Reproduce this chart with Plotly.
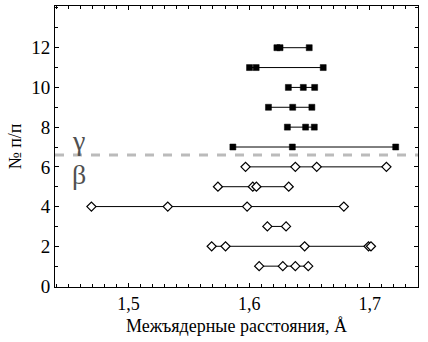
import plotly.graph_objects as go

# Interatomic distances per row (№ п/п)
gamma_rows = [7, 8, 9, 10, 11, 12]
gamma_vals = [
    [1.5865, 1.6358, 1.7215],
    [1.6317, 1.6468, 1.6540],
    [1.6160, 1.6361, 1.6520],
    [1.6325, 1.6449, 1.6543],
    [1.6003, 1.6058, 1.6614],
    [1.6230, 1.6256, 1.6498],
]
beta_rows = [1, 2, 3, 4, 5, 6]
beta_vals = [
    [1.6083, 1.6279, 1.6383, 1.6490],
    [1.5689, 1.5804, 1.6460, 1.6990, 1.7010],
    [1.6151, 1.6306],
    [1.4692, 1.5325, 1.5983, 1.6785],
    [1.5741, 1.6030, 1.6060, 1.6328],
    [1.5970, 1.6383, 1.6560, 1.7138],
]
boundary_y = 6.6
x_ticks = [1.5, 1.6, 1.7]
x_labels = ["1,5", "1,6", "1,7"]
y_ticks = [0, 2, 4, 6, 8, 10, 12]

SERIF = "Liberation Serif, Times New Roman, DejaVu Serif, serif"

fig = go.Figure()

for r, vals in zip(beta_rows, beta_vals):
    xs = sorted(vals)
    fig.add_trace(go.Scatter(
        x=xs, y=[r] * len(xs), mode="lines+markers",
        line=dict(color="black", width=1),
        marker=dict(symbol="diamond", size=7, color="white",
                    line=dict(color="black", width=1.2)),
        showlegend=False, hoverinfo="x+y"))

for r, vals in zip(gamma_rows, gamma_vals):
    xs = sorted(vals)
    fig.add_trace(go.Scatter(
        x=xs, y=[r] * len(xs), mode="lines+markers",
        line=dict(color="black", width=1),
        marker=dict(symbol="square", size=6, color="black",
                    line=dict(color="black", width=0.5)),
        showlegend=False, hoverinfo="x+y"))

fig.add_shape(type="line", xref="paper", yref="y", x0=0, x1=1,
              y0=boundary_y, y1=boundary_y,
              line=dict(color="#bbbbbb", width=3, dash="dash"))

fig.add_annotation(xref="paper", yref="y", x=0.04, y=7.35, text="γ",
                   showarrow=False, font=dict(size=28, color="#505050",
                                              family=SERIF))
fig.add_annotation(xref="paper", yref="y", x=0.04, y=5.6, text="β",
                   showarrow=False, font=dict(size=28, color="#505050",
                                              family=SERIF))

fig.update_xaxes(
    range=[1.439, 1.74], tickvals=x_ticks, ticktext=x_labels,
    showgrid=False, zeroline=False, showline=True, linecolor="black",
    linewidth=1, mirror="allticks", ticks="inside", ticklen=4,
    tickcolor="black",
    minor=dict(dtick=0.01, ticks="inside", ticklen=3, tickcolor="black"),
    tickfont=dict(family=SERIF, size=18, color="black"),
    title=dict(text="Межъядерные расстояния, Å", standoff=6,
               font=dict(family=SERIF, size=18, color="black")))
fig.update_yaxes(
    range=[-0.05, 14.1], tickvals=y_ticks,
    showgrid=False, zeroline=False, showline=True, linecolor="black",
    linewidth=1, mirror="allticks", ticks="inside", ticklen=4,
    tickcolor="black",
    minor=dict(dtick=1, ticks="inside", ticklen=3, tickcolor="black"),
    tickfont=dict(family=SERIF, size=19, color="black"),
    title=dict(text="№ п/п", standoff=4,
               font=dict(family=SERIF, size=18, color="black")))

fig.update_layout(
    width=428, height=342,
    margin=dict(l=55, r=10, t=6, b=55),
    paper_bgcolor="white", plot_bgcolor="white",
)

fig.write_html("out.html",
               config={"displayModeBar": False},
               post_script="document.body.style.margin='0px';")
